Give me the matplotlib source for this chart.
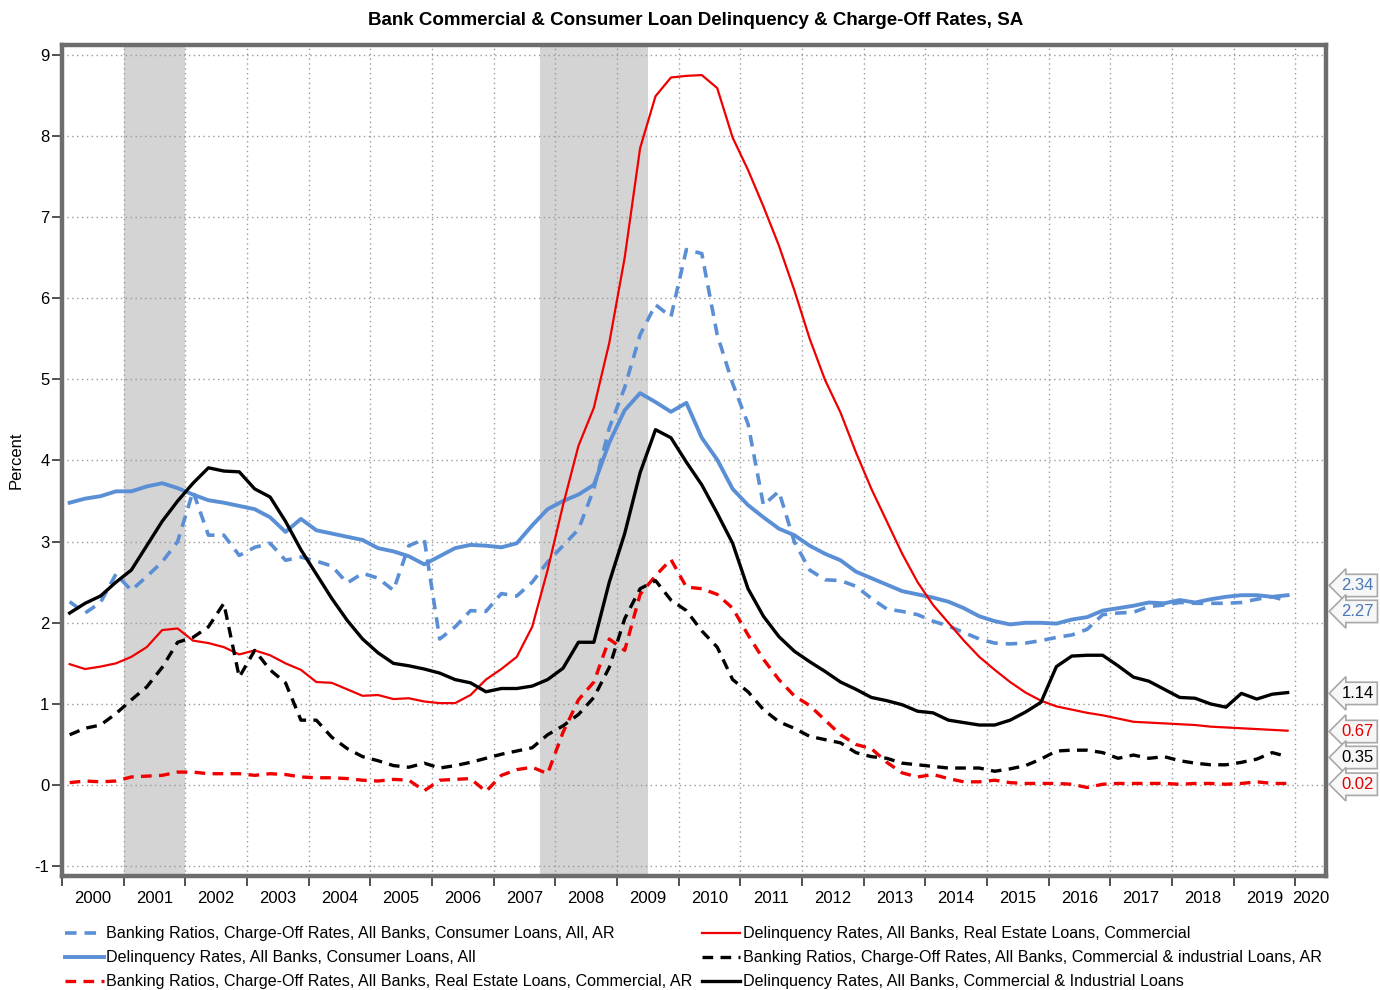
import numpy as np
import pandas as pd
import matplotlib
matplotlib.use('Agg')
import matplotlib.pyplot as plt
import matplotlib.transforms as mtransforms

plt.rcParams['font.family'] = ['Liberation Sans', 'DejaVu Sans']
plt.rcParams['axes.unicode_minus'] = False

# Quarterly data, 2000Q1 - 2019Q4
quarters = pd.period_range('2000Q1', '2019Q4', freq='Q')

co_consumer = [  # Charge-off, consumer loans (blue dashed)
    2.26, 2.12, 2.25, 2.60, 2.40, 2.57, 2.75, 3.00, 3.62, 3.08, 3.08, 2.83,
    2.93, 2.98, 2.77, 2.81, 2.76, 2.70, 2.49, 2.61, 2.55, 2.40, 2.95, 3.03,
    1.80, 1.95, 2.15, 2.14, 2.36, 2.33, 2.50, 2.75, 2.95, 3.15, 3.65, 4.40,
    4.90, 5.55, 5.92, 5.77, 6.60, 6.55, 5.55, 4.95, 4.45, 3.45, 3.62, 3.00,
    2.65, 2.53, 2.52, 2.45, 2.30, 2.17, 2.14, 2.10, 2.02, 1.96, 1.88, 1.80,
    1.75, 1.74, 1.75, 1.78, 1.82, 1.85, 1.92, 2.10, 2.12, 2.13, 2.20, 2.22,
    2.25, 2.24, 2.24, 2.24, 2.25, 2.29, 2.32, 2.27]
dq_consumer = [  # Delinquency, consumer loans (blue solid)
    3.48, 3.53, 3.56, 3.62, 3.62, 3.68, 3.72, 3.66, 3.58, 3.51, 3.48, 3.44,
    3.40, 3.30, 3.12, 3.28, 3.14, 3.10, 3.06, 3.02, 2.92, 2.88, 2.82, 2.72,
    2.82, 2.92, 2.96, 2.95, 2.93, 2.98, 3.20, 3.40, 3.50, 3.58, 3.70, 4.22,
    4.62, 4.83, 4.72, 4.60, 4.71, 4.28, 4.01, 3.65, 3.45, 3.30, 3.16, 3.08,
    2.95, 2.85, 2.77, 2.63, 2.55, 2.47, 2.39, 2.35, 2.31, 2.26, 2.18, 2.08,
    2.02, 1.98, 2.00, 2.00, 1.99, 2.04, 2.07, 2.15, 2.18, 2.21, 2.25, 2.24,
    2.28, 2.25, 2.29, 2.32, 2.34, 2.34, 2.32, 2.34]
co_cre = [  # Charge-off, commercial real estate (red dashed)
    0.03, 0.05, 0.04, 0.05, 0.10, 0.11, 0.12, 0.16, 0.16, 0.14, 0.14, 0.14,
    0.12, 0.14, 0.13, 0.10, 0.09, 0.09, 0.08, 0.06, 0.05, 0.07, 0.06, -0.07,
    0.06, 0.07, 0.08, -0.08, 0.12, 0.19, 0.22, 0.14, 0.65, 1.05, 1.27, 1.80,
    1.66, 2.35, 2.58, 2.78, 2.44, 2.42, 2.35, 2.18, 1.85, 1.55, 1.30, 1.10,
    0.98, 0.80, 0.62, 0.50, 0.45, 0.28, 0.15, 0.10, 0.13, 0.08, 0.04, 0.04,
    0.06, 0.03, 0.02, 0.02, 0.02, 0.01, -0.03, 0.01, 0.02, 0.02, 0.02, 0.02,
    0.01, 0.02, 0.02, 0.01, 0.02, 0.04, 0.02, 0.02]
dq_cre = [  # Delinquency, commercial real estate (red solid)
    1.49, 1.43, 1.46, 1.50, 1.58, 1.70, 1.91, 1.93, 1.78, 1.75, 1.70, 1.61,
    1.66, 1.60, 1.50, 1.42, 1.27, 1.26, 1.18, 1.10, 1.11, 1.06, 1.07, 1.03,
    1.01, 1.01, 1.11, 1.30, 1.43, 1.58, 1.95, 2.65, 3.45, 4.18, 4.65, 5.45,
    6.50, 7.85, 8.49, 8.72, 8.74, 8.75, 8.59, 7.98, 7.58, 7.13, 6.65, 6.10,
    5.50, 4.99, 4.59, 4.10, 3.65, 3.25, 2.85, 2.50, 2.22, 2.00, 1.78, 1.58,
    1.42, 1.27, 1.14, 1.04, 0.97, 0.93, 0.89, 0.86, 0.82, 0.78, 0.77, 0.76,
    0.75, 0.74, 0.72, 0.71, 0.70, 0.69, 0.68, 0.67]
co_ci = [  # Charge-off, C&I loans (black dashed)
    0.62, 0.70, 0.74, 0.88, 1.05, 1.21, 1.45, 1.76, 1.82, 1.95, 2.24, 1.33,
    1.66, 1.42, 1.26, 0.80, 0.80, 0.59, 0.45, 0.35, 0.30, 0.24, 0.22, 0.27,
    0.21, 0.24, 0.28, 0.33, 0.38, 0.42, 0.46, 0.62, 0.73, 0.87, 1.08, 1.45,
    2.05, 2.42, 2.52, 2.28, 2.15, 1.90, 1.70, 1.30, 1.15, 0.93, 0.78, 0.70,
    0.60, 0.56, 0.52, 0.40, 0.35, 0.33, 0.27, 0.25, 0.23, 0.21, 0.21, 0.21,
    0.17, 0.20, 0.24, 0.32, 0.42, 0.43, 0.43, 0.40, 0.33, 0.37, 0.33, 0.35,
    0.30, 0.27, 0.25, 0.25, 0.28, 0.32, 0.40, 0.35]
dq_ci = [  # Delinquency, C&I loans (black solid)
    2.12, 2.24, 2.33, 2.50, 2.65, 2.95, 3.25, 3.50, 3.72, 3.91, 3.87, 3.86,
    3.65, 3.55, 3.25, 2.90, 2.60, 2.30, 2.03, 1.80, 1.63, 1.50, 1.47, 1.43,
    1.38, 1.30, 1.26, 1.15, 1.19, 1.19, 1.22, 1.30, 1.44, 1.76, 1.76, 2.50,
    3.10, 3.85, 4.38, 4.28, 3.98, 3.70, 3.35, 2.98, 2.42, 2.08, 1.83, 1.65,
    1.52, 1.40, 1.27, 1.18, 1.08, 1.04, 0.99, 0.91, 0.89, 0.80, 0.77, 0.74,
    0.74, 0.80, 0.90, 1.02, 1.46, 1.59, 1.60, 1.60, 1.47, 1.33, 1.28, 1.18,
    1.08, 1.07, 1.00, 0.96, 1.13, 1.06, 1.12, 1.14]

recessions = [(2001.0, 2002.0), (2007.75, 2009.5)]

labels = [
    'Banking Ratios, Charge-Off Rates, All Banks, Consumer Loans, All, AR',
    'Delinquency Rates, All Banks, Consumer Loans, All',
    'Banking Ratios, Charge-Off Rates, All Banks, Real Estate Loans, Commercial, AR',
    'Delinquency Rates, All Banks, Real Estate Loans, Commercial',
    'Banking Ratios, Charge-Off Rates, All Banks, Commercial & industrial Loans, AR',
    'Delinquency Rates, All Banks, Commercial & Industrial Loans',
]

BLUE = '#5b8fd5'
RED = '#f00000'
BLACK = '#000000'

# mid-quarter position in decimal years
x = quarters.year + (quarters.quarter - 0.5) / 4

fig = plt.figure(figsize=(13.8, 9.9), dpi=100)
ax = fig.add_axes([0.0449, 0.1152, 0.9161, 0.8393])

for a, b in recessions:
    ax.axvspan(a, b, color='#d4d4d4', lw=0, zorder=0.2)

dash = (0, (3.2, 2.2))
series = [
    (co_consumer, BLUE, dash, 2.6),
    (dq_consumer, BLUE, '-', 2.8),
    (co_cre, RED, dash, 2.4),
    (dq_cre, RED, '-', 1.6),
    (co_ci, BLACK, dash, 2.4),
    (dq_ci, BLACK, '-', 2.4),
]
handles = []
for (vals, col, ls, lw), lab in zip(series, labels):
    h, = ax.plot(x, vals, color=col, ls=ls, lw=lw, label=lab, zorder=3)
    handles.append(h)

ax.set_xlim(2000, 2020.5)
ax.set_ylim(-1.12, 9.12)

years = np.arange(2000, 2021)
ax.set_xticks(years)
ax.set_xticklabels([])
mids = [y + 0.5 for y in years[:-1]] + [2020.25]
ax.set_xticks(mids, minor=True)
ax.set_xticklabels([str(y) for y in years], minor=True, fontsize=12)
ax.tick_params(axis='x', which='major', direction='out', length=7, width=1.2, color='#333333')
ax.tick_params(axis='x', which='minor', length=0, pad=11)
ax.set_yticks(range(-1, 10))
ax.tick_params(axis='y', direction='out', length=7, width=1.2, color='#333333', labelsize=12, pad=2)

ax.grid(True, which='major', ls=(0, (1, 2.5)), color='#9a9a9a', lw=1.0)
ax.set_axisbelow(True)
for s in ax.spines.values():
    s.set_color('#6d6d6d')
    s.set_linewidth(3.2)

ax.set_ylabel('Percent', fontsize=12, labelpad=8)
fig.text(0.504, 0.979, 'Bank Commercial & Consumer Loan Delinquency & Charge-Off Rates, SA',
         fontsize=13.5, fontweight='bold', ha='center', va='center')

# last-value labels on the right
trans = mtransforms.blended_transform_factory(ax.transAxes, ax.transData)
last = [
    ('2.34', 2.46, '#4a78b8'),
    ('2.27', 2.14, '#4a78b8'),
    ('1.14', 1.13, '#000000'),
    ('0.67', 0.66, '#e00000'),
    ('0.35', 0.34, '#000000'),
    ('0.02', 0.01, '#e00000'),
]
for txt, yv, col in last:
    ax.text(1.012, yv, txt, transform=trans, color=col, fontsize=12,
            va='center', ha='left', clip_on=False,
            bbox=dict(boxstyle='larrow,pad=0.22', fc='#f7f7f7', ec='#a8a8a8', lw=1.2))

fig.legend(handles=handles, loc='upper left', bbox_to_anchor=(0.0414, 0.0725),
           ncol=2, frameon=False, fontsize=11.6, handlelength=2.4,
           handletextpad=0.15, columnspacing=0.55, labelspacing=0.56, borderpad=0)

fig.savefig('out.png', dpi=100)
